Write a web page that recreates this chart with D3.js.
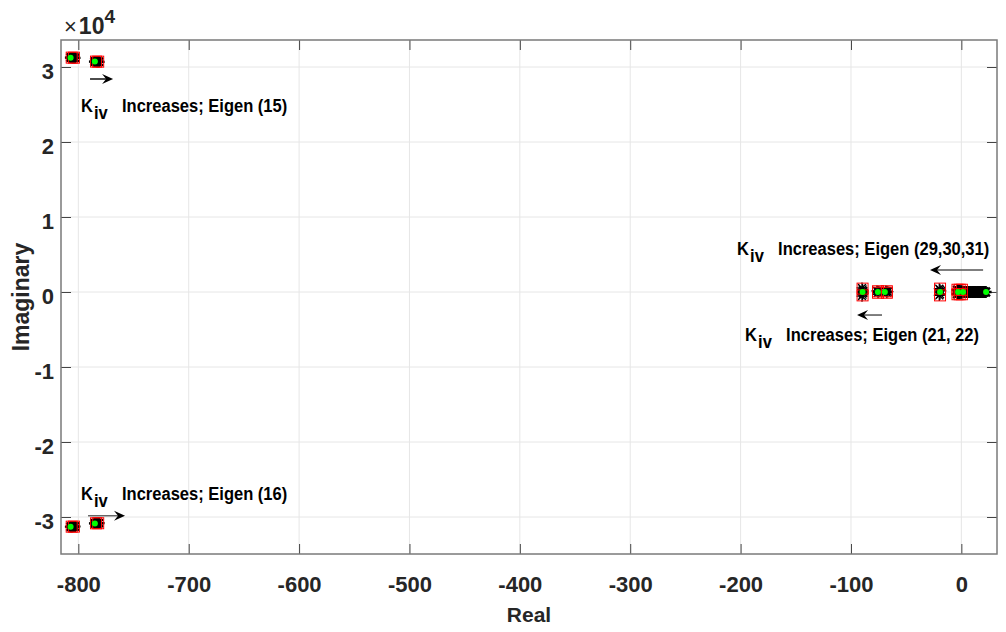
<!DOCTYPE html>
<html>
<head>
<meta charset="utf-8">
<script src="https://cdn.jsdelivr.net/npm/d3@7/dist/d3.min.js"></script>
<style>
  body { margin: 0; background: #fff; }
  svg { display: block; font-family: "Liberation Sans", Arial, Helvetica, sans-serif; }
</style>
</head>
<body>
<div id="chart"></div>
<script>
// tick values
const xTicks = [-800, -700, -600, -500, -400, -300, -200, -100, 0];
const yTicks = [-30000, -20000, -10000, 0, 10000, 20000, 30000];

// eigenvalue loci while Kiv sweeps (real, imag) -> black '*'
const locus15a = [[-807.2, 31260], [-806.6, 31255], [-806.0, 31250], [-805.4, 31245], [-804.8, 31240], [-804.2, 31235], [-803.6, 31230], [-803.0, 31225]];
const locus15b = [[-785.4, 30730], [-784.8, 30725], [-784.2, 30720], [-783.6, 30715], [-783.0, 30710], [-782.4, 30705], [-781.8, 30700], [-781.2, 30695]];
const locus16a = [[-807.2, -31300], [-806.6, -31295], [-806.0, -31290], [-805.4, -31285], [-804.8, -31280], [-804.2, -31275], [-803.6, -31270], [-803.0, -31265]];
const locus16b = [[-785.4, -30850], [-784.8, -30845], [-784.2, -30840], [-783.6, -30835], [-783.0, -30830], [-782.4, -30825], [-781.8, -30820], [-781.2, -30815]];
const locus21 = [[-90.0, 550], [-89.5, 350], [-89.0, 150], [-89.5, 0], [-89.0, -150], [-89.5, -350], [-90.0, -550]];
const locus22 = [[-76.5, 150], [-75.5, 100], [-74.5, 50], [-75.5, -100], [-68.5, 150], [-67.5, 100], [-66.5, 50], [-67.5, -100]];
const locus25 = [[-20.0, 450], [-19.3, 300], [-18.6, 150], [-19.3, -300], [-20.0, -450]];
const locus29 = [[-3.5, 250], [-2.0, 150], [0.0, 100], [1.0, 0], [2.5, 0], [4.0, 0], [5.5, 0], [7.0, 0], [8.5, 0], [10.0, 0], [11.5, 0], [13.0, 0], [14.5, 0], [16.0, 0], [17.5, 0], [19.0, 0], [20.5, 0], [22.0, 0], [-3.5, -250], [-2.0, -150], [0.0, -100]];

// red squares and green dots
const redSquares = [[-806, 31250], [-804, 31240], [-784, 30720], [-782, 30710],
  [-806, -31290], [-804, -31280], [-784, -30840], [-782, -30830],
  [-89.5, 450], [-89.5, -450], [-75.5, 100], [-75.5, -100], [-67.5, 100], [-67.5, -100],
  [-19.3, 450], [-19.3, -450], [-3.5, 300], [-3.5, -300], [-1.5, 300], [-1.5, -300], [0.5, 300], [0.5, -300]];
const greenDots = [[-807, 31250], [-785, 30720], [-807, -31300], [-785, -30850],
  [-89.5, 0], [-75.6, 0], [-69.3, 0], [-19.3, 0], [-3.0, 0], [1.5, 0], [22.4, 0]];

// annotations (data units)
const annoText = ['Increases; Eigen (15)', 'Increases; Eigen (16)', 'Increases; Eigen (29,30,31)', 'Increases; Eigen (21, 22)'];
const annoPos = [[-797.6, 24000], [-797.6, -27730], [-203.2, 4930], [-195.9, -6530]];
const arrowFrom = [[-789.4, 28400], [-791.2, -29830], [19.7, 2930], [-71.9, -3070]];
const arrowTo = [[-768.5, 28400], [-757.7, -29830], [-28.4, 2930], [-94.5, -3070]];
const arrowShaft = ['#111', '#666', '#555', '#555'];

const width = 1006, height = 632;
const margin = { top: 40, right: 9, bottom: 78, left: 61 };

const svg = d3.select('#chart').append('svg')
  .attr('width', width)
  .attr('height', height);
svg.append('rect').attr('width', width).attr('height', height).attr('fill', '#fff');

const x = d3.scaleLinear().domain([-815.7, 32.3]).range([margin.left, width - margin.right]);
const y = d3.scaleLinear().domain([-34933, 33600]).range([height - margin.bottom, margin.top]);

const x0 = margin.left, x1 = width - margin.right;
const y0 = height - margin.bottom, y1 = margin.top;

// grid
const grid = svg.append('g').attr('stroke', '#e6e6e6').attr('stroke-width', 1);
grid.selectAll('.gx').data(xTicks).join('line')
  .attr('x1', d => x(d)).attr('x2', d => x(d)).attr('y1', y1).attr('y2', y0);
grid.selectAll('.gy').data(yTicks).join('line')
  .attr('x1', x0).attr('x2', x1).attr('y1', d => y(d)).attr('y2', d => y(d));

// axes, ticks pointing inward (hyphen minus like matlab)
const fmtX = d => String(d);
const fmtY = d => String(d / 10000);
const axB = svg.append('g').attr('transform', `translate(0,${y0})`)
  .call(d3.axisBottom(x).tickValues(xTicks).tickFormat(fmtX).tickSizeInner(-10).tickSizeOuter(0).tickPadding(22));
const axL = svg.append('g').attr('transform', `translate(${x0},0)`)
  .call(d3.axisLeft(y).tickValues(yTicks).tickFormat(fmtY).tickSizeInner(-10).tickSizeOuter(0).tickPadding(7));
const axT = svg.append('g').attr('transform', `translate(0,${y1})`)
  .call(d3.axisTop(x).tickValues(xTicks).tickSizeInner(-10).tickSizeOuter(0).tickFormat(''));
const axR = svg.append('g').attr('transform', `translate(${x1},0)`)
  .call(d3.axisRight(y).tickValues(yTicks).tickSizeInner(-10).tickSizeOuter(0).tickFormat(''));

[axB, axL, axT, axR].forEach(a => {
  a.select('.domain').remove();
  a.selectAll('.tick line').attr('stroke', '#444').attr('stroke-width', 1);
  a.selectAll('.tick text')
    .attr('fill', '#262626')
    .attr('font-size', 22)
    .attr('font-weight', 'bold');
});
axL.selectAll('.tick text').attr('dy', '0.5em');

svg.append('rect')
  .attr('x', x0).attr('y', y1)
  .attr('width', x1 - x0).attr('height', y0 - y1)
  .attr('fill', 'none').attr('stroke', '#7a7a7a').attr('stroke-width', 1.5);

// axis labels
svg.append('text')
  .attr('x', (x0 + x1) / 2).attr('y', 622)
  .attr('text-anchor', 'middle')
  .attr('font-size', 21).attr('font-weight', 'bold').attr('fill', '#262626')
  .text('Real');
svg.append('text')
  .attr('transform', `translate(29,${(y0 + y1) / 2}) rotate(-90)`)
  .attr('text-anchor', 'middle')
  .attr('font-size', 23).attr('font-weight', 'bold').attr('fill', '#262626')
  .text('Imaginary');

// exponent
const expo = svg.append('text').attr('x', x0 + 3).attr('y', 34).attr('fill', '#262626');
expo.append('tspan').attr('font-size', 22).text('\u00d7');
expo.append('tspan').attr('font-size', 23).attr('font-weight', 'bold').attr('dx', 2).text('10');
expo.append('tspan').attr('font-size', 19).attr('font-weight', 'bold').attr('dy', -11).text('4');

// markers
const plot = svg.append('g');
const star = (cx, cy, r) => {
  const k = r * 0.72;
  return `M${cx - r},${cy}h${2 * r}M${cx},${cy - r}v${2 * r}` +
    `M${cx - k},${cy - k}l${2 * k},${2 * k}M${cx - k},${cy + k}l${2 * k},${-2 * k}`;
};

const leftLoci = [locus15a, locus15b, locus16a, locus16b];
const rightLoci = [locus21, locus22, locus25];

leftLoci.forEach(loc => {
  plot.append('g').selectAll('path').data(loc).join('path')
    .attr('d', d => star(x(d[0]), y(d[1]), 5.5))
    .attr('stroke', '#000').attr('stroke-width', 2.2).attr('fill', 'none');
});
rightLoci.forEach(loc => {
  plot.append('g').selectAll('path').data(loc).join('path')
    .attr('d', d => star(x(d[0]), y(d[1]), 5.5))
    .attr('stroke', '#000').attr('stroke-width', 1.3).attr('fill', 'none');
});
plot.append('g').selectAll('path').data(locus29).join('path')
  .attr('d', d => star(x(d[0]), y(d[1]), 6))
  .attr('stroke', '#000').attr('stroke-width', 2.4).attr('fill', 'none');

const sq = 11;
plot.append('g').selectAll('rect').data(redSquares).join('rect')
  .attr('x', d => x(d[0]) - sq / 2).attr('y', d => y(d[1]) - sq / 2)
  .attr('width', sq).attr('height', sq)
  .attr('fill', 'none').attr('stroke', '#ff0000').attr('stroke-width', 1);

plot.append('g').selectAll('circle').data(greenDots).join('circle')
  .attr('cx', d => x(d[0])).attr('cy', d => y(d[1])).attr('r', 3)
  .attr('fill', '#00ff00');

// annotations - condensed bold text (scaled horizontally)
const sx = 0.87;
const anno = svg.append('g').attr('fill', '#000').attr('font-weight', 'bold').attr('font-size', 19);
annoText.forEach((t, i) => {
  const px = x(annoPos[i][0]), py = y(annoPos[i][1]);
  const g = anno.append('g').attr('transform', `translate(${px},${py}) scale(${sx},1)`);
  g.append('text').attr('x', 0).attr('y', 0).text('K');
  g.append('text').attr('x', 13 / sx).attr('y', 7).text('iv');
  g.append('text').attr('x', 41 / sx).attr('y', 0).text(t);
});

arrowFrom.forEach((f, i) => {
  const fx = x(f[0]), fy = y(f[1]);
  const tx = x(arrowTo[i][0]), ty = y(arrowTo[i][1]);
  const dir = Math.sign(tx - fx);
  const hl = 11, hw = 5, notch = 4;
  svg.append('line')
    .attr('x1', fx).attr('y1', fy).attr('x2', tx - dir * hl * 0.6).attr('y2', ty)
    .attr('stroke', arrowShaft[i]).attr('stroke-width', 1.5);
  svg.append('path')
    .attr('d', `M${tx},${ty}L${tx - dir * hl},${ty - hw}L${tx - dir * (hl - notch)},${ty}L${tx - dir * hl},${ty + hw}Z`)
    .attr('fill', '#000');
});
</script>
</body>
</html>
